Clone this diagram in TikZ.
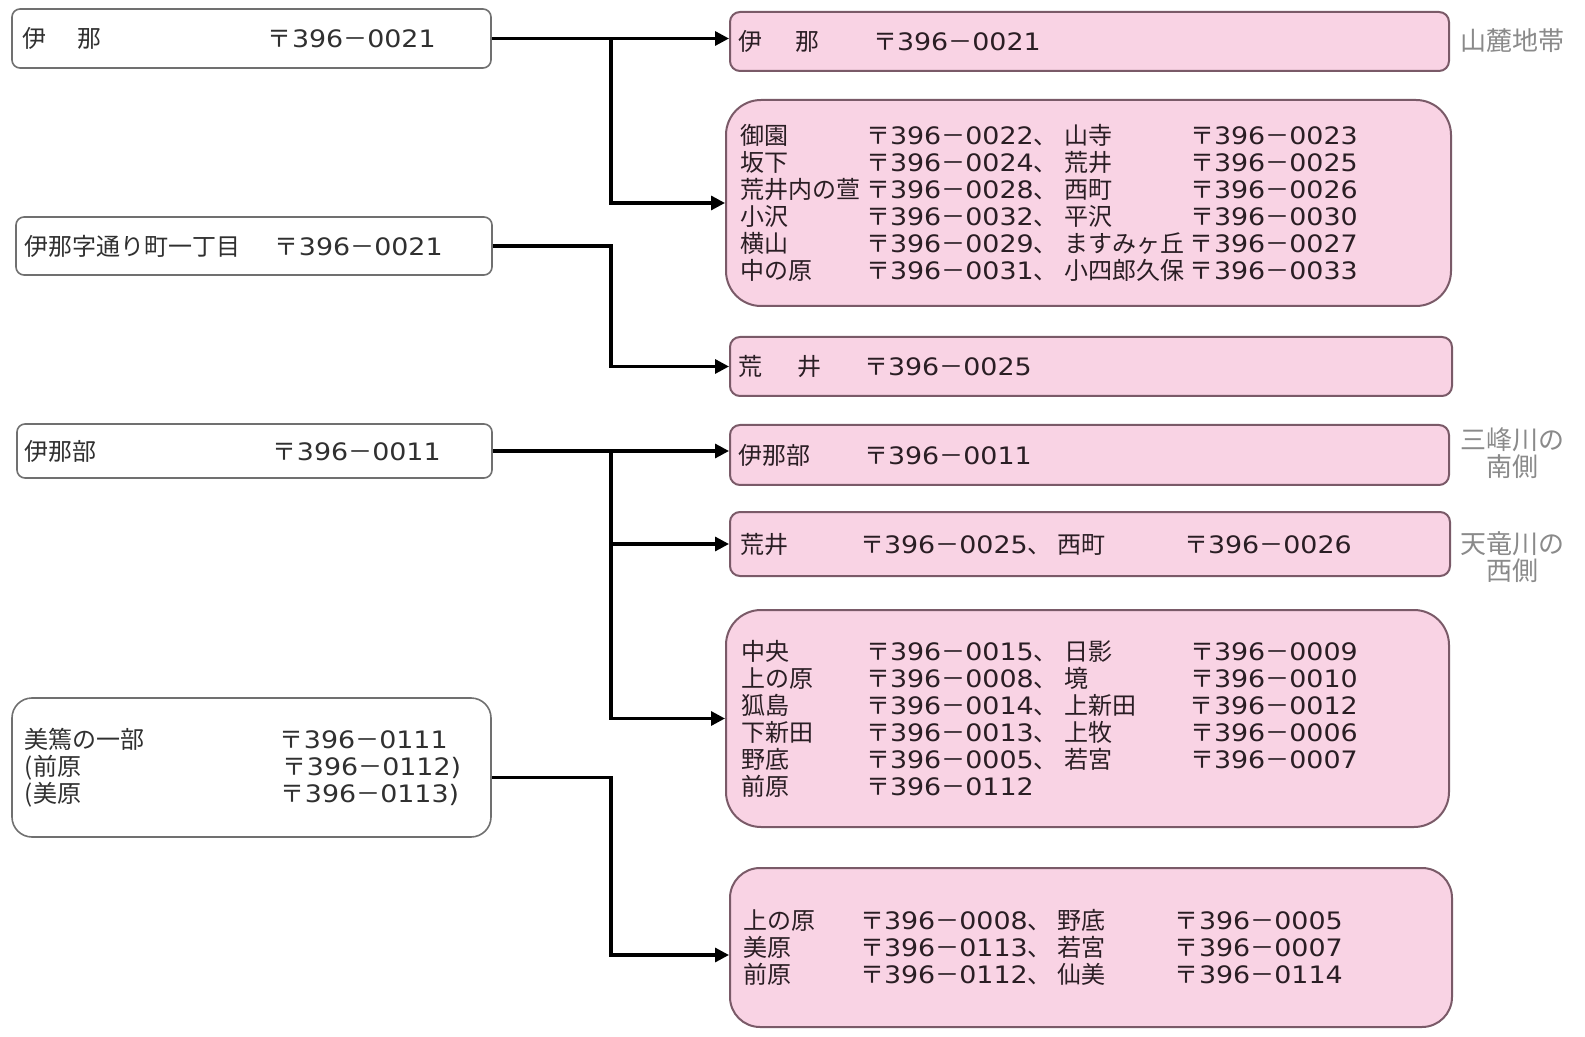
\documentclass[tikz,border=0pt]{standalone}
\usepackage{fontspec}
\setmainfont{Noto Sans CJK JP}
\newfontfamily\numf[FakeStretch=1.12]{DejaVu Sans}
\usetikzlibrary{arrows.meta}
\newcommand\zp[1]{〒{\numf 396}－{\numf #1}}
\newcommand\cl[2]{\makebox[#1][l]{#2}}
\definecolor{lborder}{HTML}{707070}
\definecolor{ltext}{HTML}{303030}
\definecolor{rborder}{HTML}{7A5A68}
\definecolor{pinkf}{HTML}{F9D3E4}
\definecolor{rtext}{HTML}{2A1E24}
\definecolor{sidec}{HTML}{8A8A8A}
\tikzset{
  basebox/.style={align=left, inner ysep=0pt, anchor=center,
    font=\fontsize{12}{13.5}\selectfont},
  lbox/.style={basebox, draw=lborder, line width=0.8pt, rounded corners=4pt, fill=white, text=ltext},
  rbox/.style={basebox, draw=rborder, line width=1pt, rounded corners=5pt, fill=pinkf, text=rtext},
  side/.style={align=center, text=sidec, font=\fontsize{13}{13.5}\selectfont, inner sep=0pt},
  conn/.style={line width=1.6pt, -{Triangle[length=7pt,width=7pt]}, line join=miter},
}
\begin{document}
\begin{tikzpicture}[x=0.5pt,y=-0.5pt]
\useasboundingbox (0,0) rectangle (1585,1037);
% left boxes
\node[lbox, text width=229.5pt, inner xsep=5pt, minimum height=29.5pt] (L1) at (251.5,38.5)
  {\cl{123pt}{伊\hspace{16pt}那}\zp{0021}};
\node[lbox, text width=229pt, inner xsep=4.5pt, minimum height=29pt] (L2) at (254,246)
  {\cl{125pt}{伊那字通り町一丁目}\zp{0021}};
\node[lbox, text width=229.5pt, inner xsep=4pt, minimum height=27pt] (L3) at (254.5,451)
  {\cl{124pt}{伊那部}\zp{0011}};
\node[lbox, rounded corners=10pt, text width=226.5pt, inner xsep=6.5pt, minimum height=69.5pt] (L4) at (251.5,767.5)
  {\cl{127.5pt}{美篶の一部}\zp{0111}\\
   \cl{129pt}{(前原}\zp{0112}{\numf )}\\
   \cl{128pt}{(美原}\zp{0113}{\numf )}};
% right boxes
\node[rbox, text width=351.5pt, inner xsep=4pt, minimum height=29.5pt] (R1) at (1089.5,41.5)
  {\cl{67.5pt}{伊\hspace{16.5pt}那}\zp{0021}};
\node[rbox, rounded corners=17.5pt, text width=348.5pt, inner xsep=7pt, minimum height=103pt] (R2) at (1088.5,203)
  {\cl{63pt}{御園}\cl{99.5pt}{\zp{0022}、}\cl{62.5pt}{山寺}\zp{0023}\\
   \cl{63pt}{坂下}\cl{99.5pt}{\zp{0024}、}\cl{62.5pt}{荒井}\zp{0025}\\
   \cl{63pt}{荒井内の萱}\cl{99.5pt}{\zp{0028}、}\cl{62.5pt}{西町}\zp{0026}\\
   \cl{63pt}{小沢}\cl{99.5pt}{\zp{0032}、}\cl{62.5pt}{平沢}\zp{0030}\\
   \cl{63pt}{横山}\cl{99.5pt}{\zp{0029}、}\cl{62.5pt}{ますみヶ丘}\zp{0027}\\
   \cl{63pt}{中の原}\cl{99.5pt}{\zp{0031}、}\cl{62.5pt}{小四郎久保}\zp{0033}};
\node[rbox, text width=353pt, inner xsep=4pt, minimum height=29.5pt] (R3) at (1091,366.5)
  {\cl{63pt}{荒\hspace{17.5pt}井}\zp{0025}};
\node[rbox, text width=351.5pt, inner xsep=4pt, minimum height=30pt] (R4) at (1089.5,455)
  {\cl{63pt}{伊那部}\zp{0011}};
\node[rbox, text width=350pt, inner xsep=5pt, minimum height=32pt] (R5) at (1090,544)
  {\cl{60pt}{荒井}\cl{99pt}{\zp{0025}、}\cl{63pt}{西町}\zp{0026}};
\node[rbox, rounded corners=17.5pt, text width=346.5pt, inner xsep=7.5pt, minimum height=108.5pt] (R6) at (1087.5,718.5)
  {\cl{62.5pt}{中央}\cl{99.5pt}{\zp{0015}、}\cl{62.5pt}{日影}\zp{0009}\\
   \cl{62.5pt}{上の原}\cl{99.5pt}{\zp{0008}、}\cl{62.5pt}{境}\zp{0010}\\
   \cl{62.5pt}{狐島}\cl{99.5pt}{\zp{0014}、}\cl{62.5pt}{上新田}\zp{0012}\\
   \cl{62.5pt}{下新田}\cl{99.5pt}{\zp{0013}、}\cl{62.5pt}{上牧}\zp{0006}\\
   \cl{62.5pt}{野底}\cl{99.5pt}{\zp{0005}、}\cl{62.5pt}{若宮}\zp{0007}\\
   \cl{62.5pt}{前原}\zp{0112}};
\node[rbox, rounded corners=15pt, text width=348pt, inner xsep=6.5pt, minimum height=79.5pt] (R7) at (1091,947.5)
  {\cl{58.5pt}{上の原}\cl{99pt}{\zp{0008}、}\cl{58.5pt}{野底}\zp{0005}\\
   \cl{58.5pt}{美原}\cl{99pt}{\zp{0113}、}\cl{58.5pt}{若宮}\zp{0007}\\
   \cl{58.5pt}{前原}\cl{99pt}{\zp{0112}、}\cl{58.5pt}{仙美}\zp{0114}};
% side labels
\node[side] (S1) at (1512,41) {山麓地帯};
\node[side] (S2) at (1512,453) {三峰川の\\南側};
\node[side] (S3) at (1512,557) {天竜川の\\西側};
% connectors
\coordinate (j1) at (611,0);
\coordinate (L4e) at ([yshift=-5pt]L4.east);
\coordinate (R7w) at ([yshift=-3.75pt]R7.west);
\draw[conn] (L1.east) -- (L1.east -| R1.west);
\draw[conn] (j1 |- L1.east) |- (R2.west);
\draw[conn] (L2.east) -| (j1 |- R3.west) -- (R3.west);
\draw[conn] (L3.east) -- (L3.east -| R4.west);
\draw[conn] (j1 |- L3.east) |- (R5.west);
\draw[conn] (j1 |- L3.east) |- (R6.west);
\draw[conn] (L4e) -| (j1 |- R7w) -- (R7w);
\end{tikzpicture}
\end{document}
